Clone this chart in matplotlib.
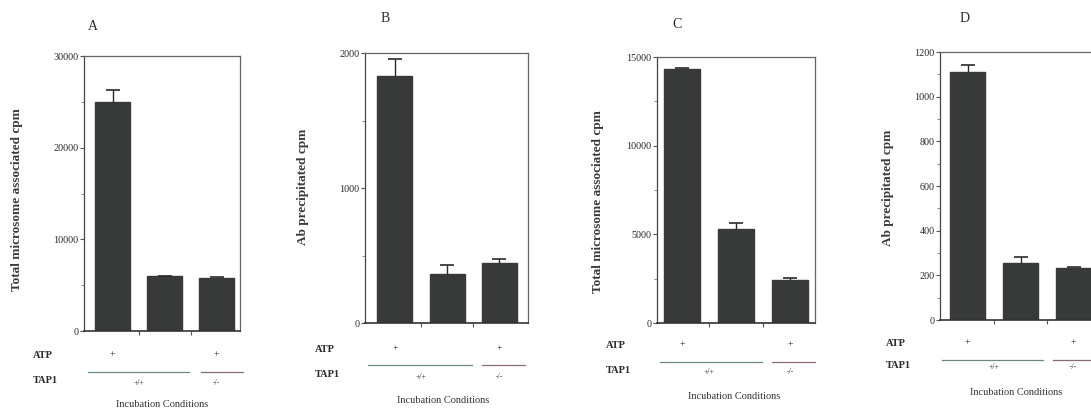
import matplotlib
matplotlib.use("Agg")
import matplotlib.pyplot as plt
from matplotlib.ticker import MultipleLocator
import matplotlib.transforms as mtransforms

plt.rcParams['font.family'] = ['Liberation Serif', 'DejaVu Serif']

# ---- data ----
panel_labels = ["A", "B", "C", "D"]
y_labels = ["Total microsome associated cpm", "Ab precipitated cpm",
            "Total microsome associated cpm", "Ab precipitated cpm"]
atp_marks = ["+", "", "+"]
tap1_groups = ["+/+", "-/-"]
xlabel = "Incubation Conditions"

values_A = [25000, 5950, 5750]
errors_A = [1300, 100, 150]
values_B = [1830, 363, 444]
errors_B = [125, 67, 30]
values_C = [14300, 5300, 2450]
errors_C = [80, 350, 80]
values_D = [1110, 255, 233]
errors_D = [32, 27, 3]

yticks_A = [0, 10000, 20000, 30000]
yticks_B = [0, 1000, 2000]
yticks_C = [0, 5000, 10000, 15000]
yticks_D = [0, 200, 400, 600, 800, 1000, 1200]
minor_A, minor_B, minor_C, minor_D = 5000, 500, 2500, 100

W, H = 1091, 411
fig = plt.figure(figsize=(W / 100, H / 100), dpi=100)

bar_color = "#383a39"
ink = "#2a2a2a"

# layout (pixels)
layouts = [
    dict(l=84, r=240, t=56, b=331, xlim=(-0.55, 2.45), lines=(-0.48, 1.47, 1.70, 2.51),
         title=(93, 27), ylab=(17, 200), lab_x=33, atp_y=355, line_y=372, tap_y=380,
         tap_txt=383, inc=(162, 404)),
    dict(l=365, r=528, t=53, b=323, xlim=(-0.57, 2.55), lines=(-0.52, 1.47, 1.67, 2.49),
         title=(385, 18), ylab=(303, 187), lab_x=315, atp_y=349, line_y=365, tap_y=374,
         tap_txt=377, inc=(443, 400)),
    dict(l=657, r=815, t=57, b=323, xlim=(-0.46, 2.46), lines=(-0.41, 1.48, 1.67, 2.46),
         title=(677, 25), ylab=(598, 202), lab_x=606, atp_y=345, line_y=362, tap_y=370,
         tap_txt=372, inc=(734, 396)),
    dict(l=940, r=1100, t=52, b=320, xlim=(-0.52, 2.5), lines=(-0.48, 1.42, 1.62, 2.5),
         title=(965, 18), ylab=(888, 188), lab_x=886, atp_y=343, line_y=360, tap_y=365,
         tap_txt=367, inc=(1016, 392)),
]

all_vals = [values_A, values_B, values_C, values_D]
all_errs = [errors_A, errors_B, errors_C, errors_D]
all_ticks = [yticks_A, yticks_B, yticks_C, yticks_D]
all_minor = [minor_A, minor_B, minor_C, minor_D]


def fy(y):
    return 1 - y / H


for i, lay in enumerate(layouts):
    ax = fig.add_axes([lay['l'] / W, 1 - lay['b'] / H,
                       (lay['r'] - lay['l']) / W, (lay['b'] - lay['t']) / H])
    xs = [0, 1, 2]
    ax.bar(xs, all_vals[i], width=0.67, color=bar_color, edgecolor=bar_color, zorder=2)
    eb = ax.errorbar(xs, all_vals[i], yerr=[[0, 0, 0], all_errs[i]], fmt='none',
                     ecolor=ink, elinewidth=1.0, capsize=5, capthick=1.2, zorder=3)
    caplines = eb[1]
    if len(caplines) == 2:
        caplines[0].set_visible(False)
    ax.set_xlim(*lay['xlim'])
    ax.set_ylim(all_ticks[i][0], all_ticks[i][-1])
    ax.set_yticks(all_ticks[i])
    ax.set_yticklabels([str(t) for t in all_ticks[i]], fontsize=7.3, color=ink)
    ax.yaxis.set_minor_locator(MultipleLocator(all_minor[i]))
    ax.set_xticks([0.5, 1.5])
    ax.set_xticklabels([])
    ax.tick_params(axis='both', which='major', length=3, width=0.8, colors="#555555",
                   labelcolor=ink, pad=1)
    ax.tick_params(axis='y', which='minor', length=2, width=0.6, colors="#777777")
    for s in ax.spines.values():
        s.set_color("#666666")
        s.set_linewidth(0.9)
    ax.spines['left'].set_color("#444444")
    ax.spines['bottom'].set_color("#333333")
    ax.spines['bottom'].set_linewidth(1.2)

    fig.text(lay['title'][0] / W, fy(lay['title'][1]), panel_labels[i],
             fontsize=10, ha='center', va='center', color=ink)
    fig.text(lay['ylab'][0] / W, fy(lay['ylab'][1]), y_labels[i], rotation=90,
             fontsize=9.5, fontweight='bold', ha='center', va='center', color="#3a3a3a")
    fig.text(lay['lab_x'] / W, fy(lay['atp_y']), "ATP", fontsize=7.5,
             fontweight='bold', ha='left', va='center', color=ink)
    fig.text(lay['lab_x'] / W, fy(lay['tap_y']), "TAP1", fontsize=7.5,
             fontweight='bold', ha='left', va='center', color=ink)
    fig.text(lay['inc'][0] / W, fy(lay['inc'][1]), xlabel, fontsize=7.5,
             ha='center', va='center', color="#333333")

    tr = mtransforms.blended_transform_factory(ax.transData, fig.transFigure)
    for x, m in zip(xs, atp_marks):
        if m:
            ax.text(x, fy(lay['atp_y']), m, transform=tr, fontsize=7,
                    ha='center', va='center', color=ink)
    ly = fy(lay['line_y'])
    x0, x1, x2, x3 = lay['lines']
    ax.plot([x0, x1], [ly, ly], transform=tr, color="#6a8a8a", lw=0.9, clip_on=False)
    ax.plot([x2, x3], [ly, ly], transform=tr, color="#8a6a7a", lw=0.9, clip_on=False)
    ty = fy(lay['tap_txt'])
    ax.text(0.5, ty, tap1_groups[0], transform=tr, fontsize=5.5,
            ha='center', va='center', color=ink)
    ax.text(2.0, ty, tap1_groups[1], transform=tr, fontsize=5.5,
            ha='center', va='center', color=ink)

fig.savefig("out.png", dpi=100, facecolor="white")
